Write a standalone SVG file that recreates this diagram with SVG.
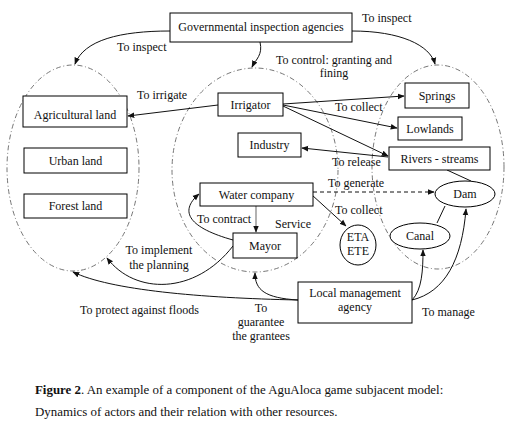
<svg xmlns="http://www.w3.org/2000/svg" width="509" height="428" viewBox="0 0 509 428">
<style>
text{font-family:"Liberation Serif","Times New Roman",serif;font-size:12px;fill:#111}
.c{text-anchor:middle}
.cap{font-size:12.9px}
.box{fill:#fff;stroke:#000;stroke-width:1}
.zone{fill:none;stroke:#666;stroke-width:0.9;stroke-dasharray:5,2.5,1,2.5}
.ln{fill:none;stroke:#111;stroke-width:1}
.arr{fill:none;stroke:#111;stroke-width:1;marker-end:url(#ah)}
</style>
<defs>
<marker id="ah" viewBox="0 0 10 10" refX="9" refY="5" markerWidth="7" markerHeight="7" markerUnits="userSpaceOnUse" orient="auto">
<path d="M0,1 L10,5 L0,9 z" fill="#111"/>
</marker>
</defs>
<rect width="509" height="428" fill="#fff"/>
<g id="zones">
<ellipse class="zone" cx="73" cy="168" rx="66" ry="103"/>
<ellipse class="zone" cx="255" cy="170" rx="83" ry="102"/>
<ellipse class="zone" cx="438" cy="167" rx="66" ry="102"/>
</g>
<g id="connectors">
<path class="arr" d="M170,31 C120,31 84,40 75,64"/>
<path class="arr" d="M352,31 C400,31 430,45 435,64"/>
<path class="arr" d="M260,42 C263,55 256,59 252,67"/>
<path class="arr" d="M218,105 L128,116"/>
<path class="arr" d="M283,104 L404,96"/>
<path class="arr" d="M283,105 L397,128"/>
<path class="arr" d="M283,106 L388,156"/>
<path class="arr" d="M388,157 L302,148"/>
<path class="arr" d="M313,192 L434,192" stroke-dasharray="4,3"/>
<path class="arr" d="M312,195 L346,226"/>
<path d="M256,206 L256,232" fill="none" stroke="#888" stroke-width="1.3" marker-end="url(#ah)"/>
<path class="arr" d="M233,240 C190,228 178,212 199,194"/>
<path class="arr" d="M233,246 C195,295 135,295 107,258"/>
<path class="arr" d="M298,300 C200,298 110,290 73,272"/>
<path class="arr" d="M298,300 C265,298 255,290 255,273"/>
<path class="arr" d="M412,300 C422,290 423,270 423,250"/>
<path class="arr" d="M412,300 C445,292 462,260 466,209"/>
<path class="ln" d="M437,223 L445,206"/>
<path class="ln" d="M447,170 L471,181"/>
</g>
<g id="labels">
<text x="117" y="51">To inspect</text>
<text x="362" y="22">To inspect</text>
<text x="137" y="99">To irrigate</text>
<text class="c" x="334" y="64">To control: granting and</text>
<text class="c" x="334" y="77">fining</text>
<text x="335" y="111">To collect</text>
<text x="332" y="166">To release</text>
<text x="328" y="187">To generate</text>
<text x="335" y="214">To collect</text>
<text x="197" y="223">To contract</text>
<text x="275" y="228">Service</text>
<text class="c" x="159" y="254">To implement</text>
<text class="c" x="159" y="269">the planning</text>
<text x="80" y="314">To protect against floods</text>
<text class="c" x="261" y="312">To</text>
<text class="c" x="261" y="326">guarantee</text>
<text class="c" x="261" y="340">the grantees</text>
<text x="422" y="316">To manage</text>
</g>
<g id="gov"><rect class="box" x="170" y="13" width="182" height="29"/><text class="c" x="261" y="31">Governmental inspection agencies</text></g>
<g id="agri"><rect class="box" x="23" y="96" width="104" height="31"/><text class="c" x="75" y="119">Agricultural land</text></g>
<g id="urban"><rect class="box" x="24" y="148" width="103" height="25"/><text class="c" x="75.5" y="165">Urban land</text></g>
<g id="forest"><rect class="box" x="24" y="194" width="103" height="24"/><text class="c" x="75.5" y="210">Forest land</text></g>
<g id="irrigator"><rect class="box" x="218" y="93" width="65" height="23"/><text class="c" x="250.5" y="109">Irrigator</text></g>
<g id="industry"><rect class="box" x="238" y="133" width="63" height="24"/><text class="c" x="269.5" y="149">Industry</text></g>
<g id="water"><rect class="box" x="200" y="183" width="113" height="23"/><text class="c" x="256.5" y="199">Water company</text></g>
<g id="mayor"><rect class="box" x="233" y="233" width="64" height="25"/><text class="c" x="265" y="250">Mayor</text></g>
<g id="springs"><rect class="box" x="405" y="83" width="64" height="25"/><text class="c" x="437" y="100">Springs</text></g>
<g id="lowlands"><rect class="box" x="398" y="117" width="64" height="23"/><text class="c" x="430" y="133">Lowlands</text></g>
<g id="rivers"><rect class="box" x="389" y="147" width="101" height="23"/><text class="c" x="439.5" y="163">Rivers - streams</text></g>
<g id="dam"><ellipse class="box" cx="465" cy="194" rx="30" ry="13"/><text class="c" x="465" y="198">Dam</text></g>
<g id="canal"><ellipse class="box" cx="420" cy="236" rx="30" ry="13"/><text class="c" x="420" y="240">Canal</text></g>
<g id="eta"><ellipse class="box" cx="358" cy="245" rx="18" ry="20"/><text class="c" x="358" y="241">ETA</text><text class="c" x="358" y="255">ETE</text></g>
<g id="local"><rect class="box" x="298" y="282" width="114" height="41"/><text class="c" x="355" y="297">Local management</text><text class="c" x="355" y="311">agency</text></g>
<g id="caption">
<text class="cap" x="35" y="394"><tspan font-weight="bold">Figure 2</tspan>. An example of a component of the AguAloca game subjacent model:</text>
<text class="cap" x="35" y="416">Dynamics of actors and their relation with other resources.</text>
</g>
</svg>
